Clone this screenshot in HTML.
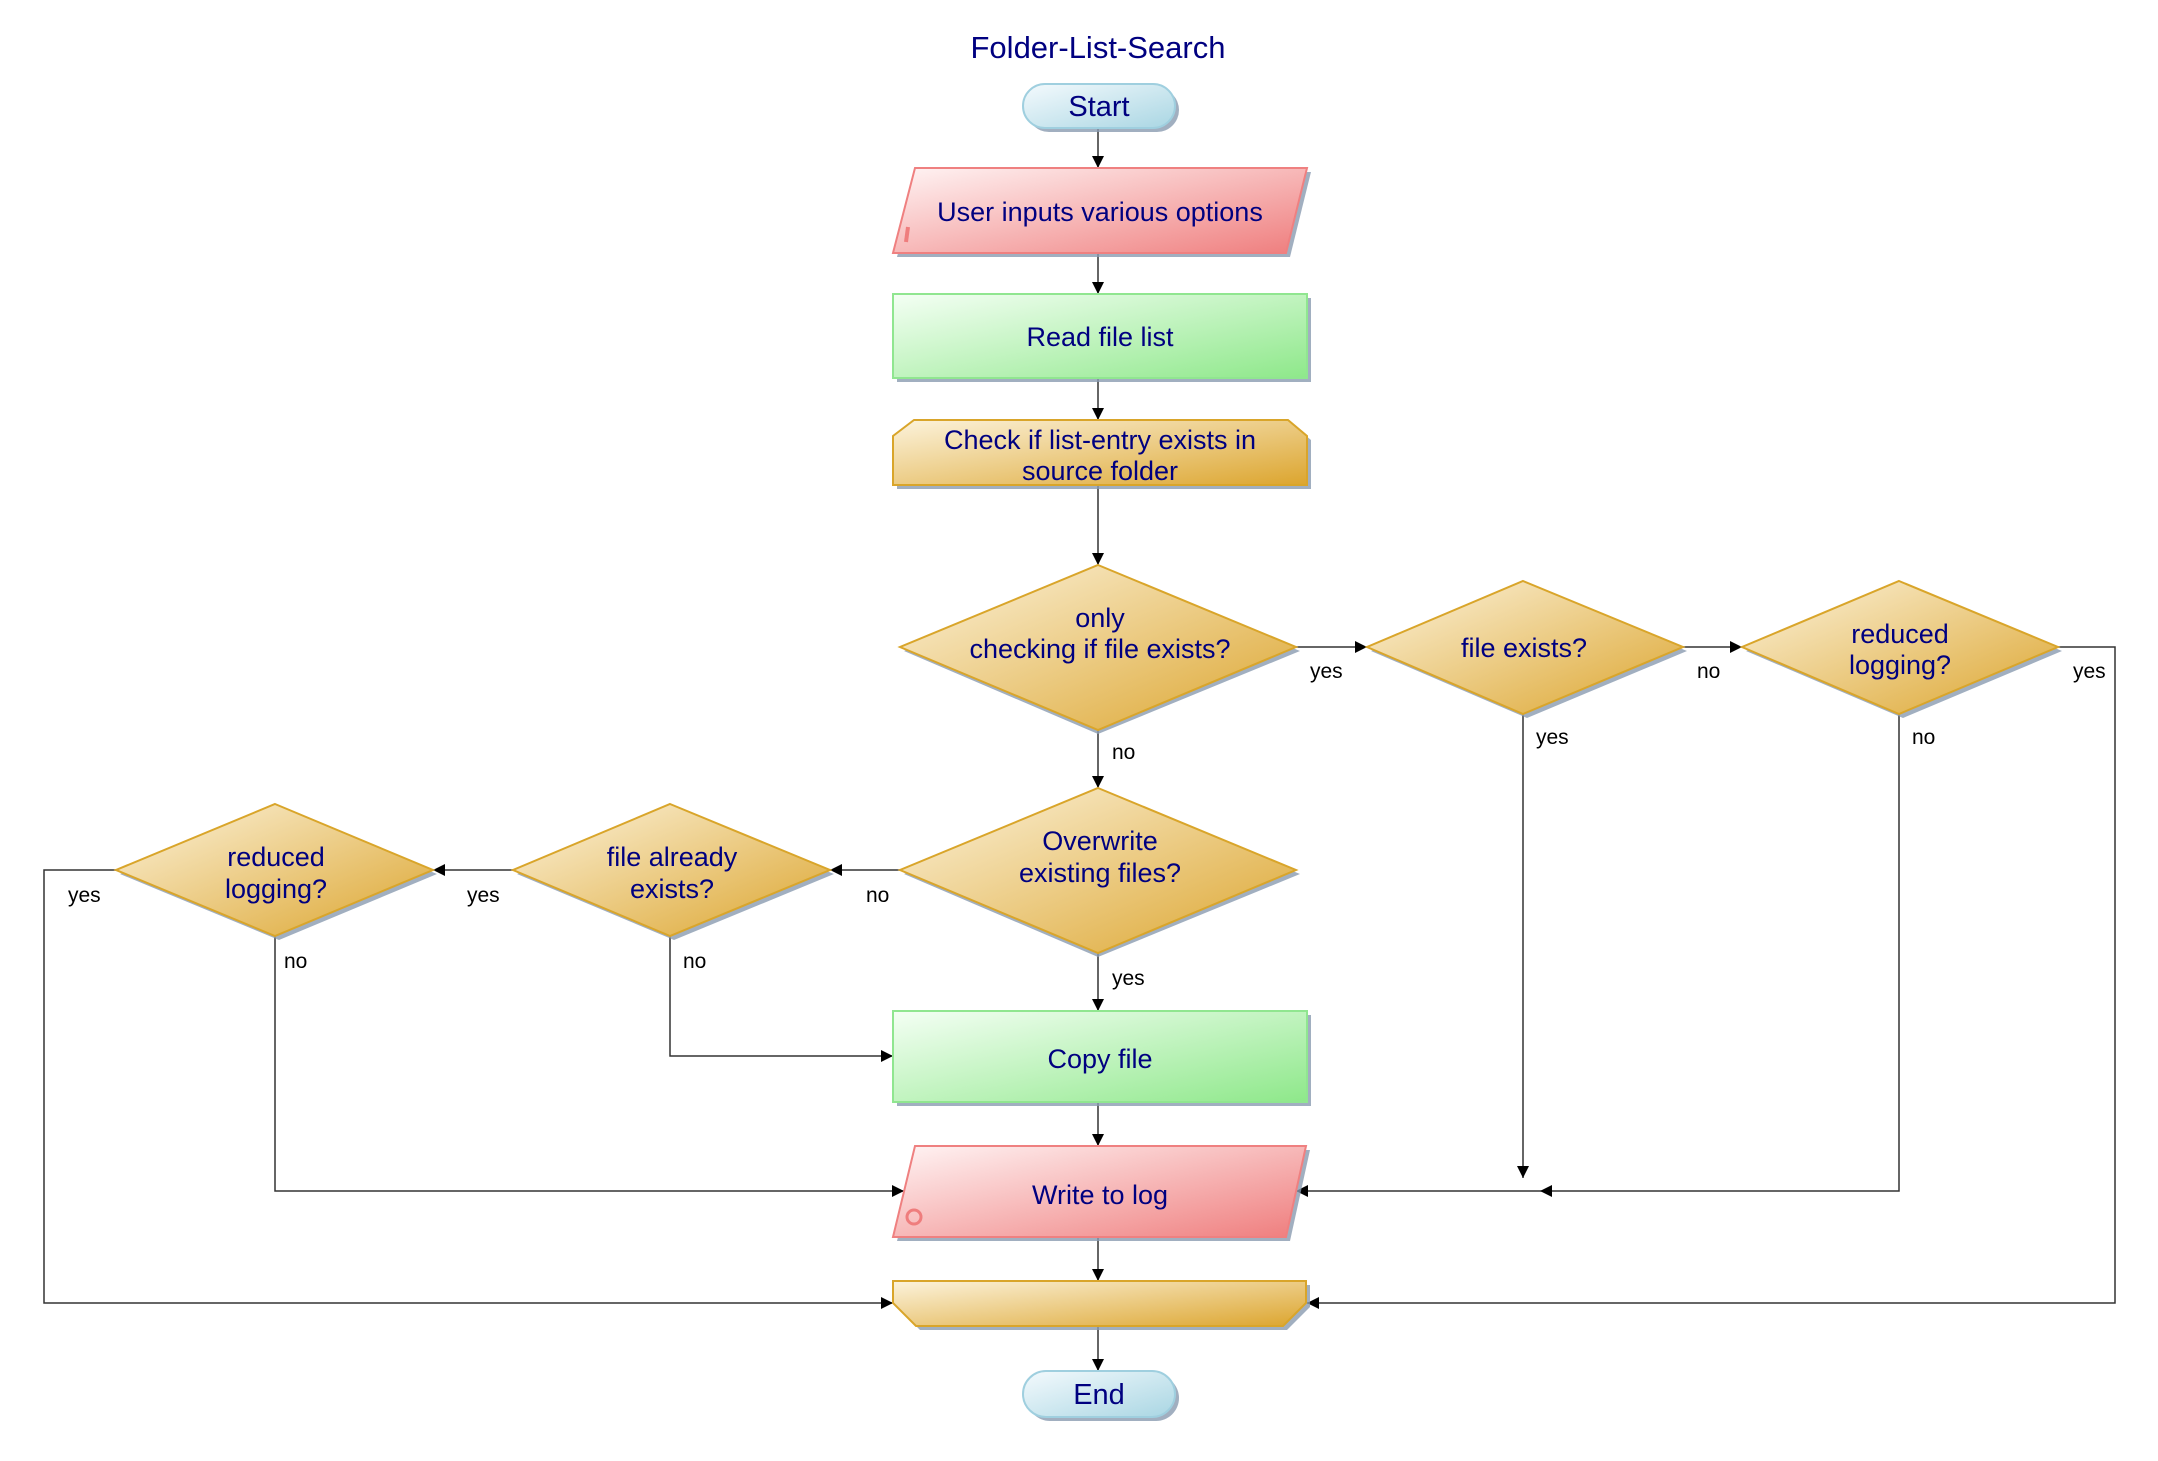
<!DOCTYPE html>
<html><head><meta charset="utf-8"><style>
html,body{margin:0;padding:0;background:#fff;}
svg{display:block;}
text{font-family:"Liberation Sans",Arial,sans-serif;}
.n{fill:#000080;font-size:27px;text-anchor:middle;}
.l{fill:#000;font-size:21px;}
.c{stroke:#333;stroke-width:1.5;fill:none;}
.sh{fill:#8a9bb0;opacity:.8;}
</style></head><body>
<svg width="2158" height="1461" viewBox="0 0 2158 1461" xmlns="http://www.w3.org/2000/svg">
<defs>
<linearGradient id="gy" x1="0" y1="0" x2="1" y2="1"><stop offset="0" stop-color="#fcf3dc"/><stop offset="1" stop-color="#dca52e"/></linearGradient>
<linearGradient id="gg" x1="0" y1="0" x2="1" y2="1"><stop offset="0" stop-color="#f4fff4"/><stop offset="1" stop-color="#8ee88a"/></linearGradient>
<linearGradient id="gp" x1="0" y1="0" x2="1" y2="1"><stop offset="0" stop-color="#fff4f4"/><stop offset="1" stop-color="#ef7d7d"/></linearGradient>
<linearGradient id="gb" x1="0" y1="0" x2="1" y2="1"><stop offset="0" stop-color="#f4fafd"/><stop offset="1" stop-color="#a9d6e3"/></linearGradient>
<marker id="a" markerWidth="12" markerHeight="12" refX="12" refY="6" orient="auto" markerUnits="userSpaceOnUse"><path d="M0,0 L12,6 L0,12 z" fill="#000"/></marker>
</defs>

<text x="1098" y="58" class="n" style="font-size:31px">Folder-List-Search</text>

<!-- connectors -->
<g class="c">
<path d="M1098 128 V168" marker-end="url(#a)"/>
<path d="M1098 253 V294" marker-end="url(#a)"/>
<path d="M1098 378 V420" marker-end="url(#a)"/>
<path d="M1098 485 V565" marker-end="url(#a)"/>
<path d="M1296 647 H1367" marker-end="url(#a)"/>
<path d="M1683 647 H1742" marker-end="url(#a)"/>
<path d="M2058 647 H2115 V1303 H1307" marker-end="url(#a)"/>
<path d="M1523 714 V1178" marker-end="url(#a)"/>
<path d="M1899 714 V1191 H1540" marker-end="url(#a)"/>
<path d="M1540 1191 H1296" marker-end="url(#a)"/>
<path d="M1098 730 V788" marker-end="url(#a)"/>
<path d="M900 870 H830" marker-end="url(#a)"/>
<path d="M513 870 H433" marker-end="url(#a)"/>
<path d="M116 870 H44 V1303 H893" marker-end="url(#a)"/>
<path d="M275 936 V1191 H904" marker-end="url(#a)"/>
<path d="M670 936 V1056 H893" marker-end="url(#a)"/>
<path d="M1098 953 V1011" marker-end="url(#a)"/>
<path d="M1098 1102 V1146" marker-end="url(#a)"/>
<path d="M1098 1237 V1281" marker-end="url(#a)"/>
<path d="M1098 1326 V1371" marker-end="url(#a)"/>
</g>

<!-- labels -->
<text class="l" x="1310" y="678">yes</text>
<text class="l" x="1697" y="678">no</text>
<text class="l" x="2073" y="678">yes</text>
<text class="l" x="1536" y="744">yes</text>
<text class="l" x="1912" y="744">no</text>
<text class="l" x="1112" y="759">no</text>
<text class="l" x="866" y="902">no</text>
<text class="l" x="467" y="902">yes</text>
<text class="l" x="68" y="902">yes</text>
<text class="l" x="284" y="968">no</text>
<text class="l" x="683" y="968">no</text>
<text class="l" x="1112" y="985">yes</text>

<!-- Start -->
<rect x="1027" y="88" width="152" height="44" rx="22" class="sh"/>
<rect x="1023" y="84" width="152" height="44" rx="22" fill="url(#gb)" stroke="#9fcfdf" stroke-width="2"/>
<text x="1099" y="116" class="n" style="font-size:29px">Start</text>

<!-- User inputs -->
<polygon points="919,172 1311,172 1290,257 897,257" class="sh"/>
<polygon points="915,168 1307,168 1286,253 893,253" fill="url(#gp)" stroke="#ef8080" stroke-width="2"/>
<line x1="908" y1="227" x2="906" y2="242" stroke="#ef7d7d" stroke-width="4"/>
<text x="1100" y="221" class="n">User inputs various options</text>

<!-- Read file list -->
<rect x="897" y="298" width="414" height="84" class="sh"/>
<rect x="893" y="294" width="414" height="84" fill="url(#gg)" stroke="#90e690" stroke-width="2"/>
<text x="1100" y="346" class="n">Read file list</text>

<!-- Check -->
<polygon points="918,424 1292,424 1311,440 1311,489 897,489 897,440" class="sh"/>
<polygon points="914,420 1288,420 1307,436 1307,485 893,485 893,436" fill="url(#gy)" stroke="#d9a52a" stroke-width="2"/>
<text x="1100" y="449" class="n">Check if list-entry exists in</text>
<text x="1100" y="480" class="n">source folder</text>

<!-- Diamonds -->
<g>
<polygon points="1098,569 1300,651 1098,734 904,651" class="sh"/>
<polygon points="1098,565 1296,647 1098,730 900,647" fill="url(#gy)" stroke="#d9a52a" stroke-width="2"/>
<text x="1100" y="627" class="n">only</text>
<text x="1100" y="658" class="n">checking if file exists?</text>

<polygon points="1527,585 1687,651 1527,718 1371,651" class="sh"/>
<polygon points="1523,581 1683,647 1523,714 1367,647" fill="url(#gy)" stroke="#d9a52a" stroke-width="2"/>
<text x="1524" y="657" class="n">file exists?</text>

<polygon points="1903,585 2062,651 1903,718 1746,651" class="sh"/>
<polygon points="1899,581 2058,647 1899,714 1742,647" fill="url(#gy)" stroke="#d9a52a" stroke-width="2"/>
<text x="1900" y="643" class="n">reduced</text>
<text x="1900" y="674" class="n">logging?</text>

<polygon points="1098,792 1300,874 1098,957 904,874" class="sh"/>
<polygon points="1098,788 1296,870 1098,953 900,870" fill="url(#gy)" stroke="#d9a52a" stroke-width="2"/>
<text x="1100" y="850" class="n">Overwrite</text>
<text x="1100" y="882" class="n">existing files?</text>

<polygon points="674,808 834,874 674,940 517,874" class="sh"/>
<polygon points="670,804 830,870 670,936 513,870" fill="url(#gy)" stroke="#d9a52a" stroke-width="2"/>
<text x="672" y="866" class="n">file already</text>
<text x="672" y="898" class="n">exists?</text>

<polygon points="279,808 437,874 279,940 120,874" class="sh"/>
<polygon points="275,804 433,870 275,936 116,870" fill="url(#gy)" stroke="#d9a52a" stroke-width="2"/>
<text x="276" y="866" class="n">reduced</text>
<text x="276" y="898" class="n">logging?</text>
</g>

<!-- Copy file -->
<rect x="897" y="1015" width="414" height="91" class="sh"/>
<rect x="893" y="1011" width="414" height="91" fill="url(#gg)" stroke="#90e690" stroke-width="2"/>
<text x="1100" y="1068" class="n">Copy file</text>

<!-- Write to log -->
<polygon points="919,1150 1310,1150 1290,1241 897,1241" class="sh"/>
<polygon points="915,1146 1306,1146 1286,1237 893,1237" fill="url(#gp)" stroke="#ef8080" stroke-width="2"/>
<circle cx="914" cy="1217" r="7" fill="none" stroke="#ef7d7d" stroke-width="3"/>
<text x="1100" y="1204" class="n">Write to log</text>

<!-- merge -->
<polygon points="897,1285 1310,1285 1310,1307 1287,1330 920,1330 897,1307" class="sh"/>
<polygon points="893,1281 1306,1281 1306,1303 1283,1326 916,1326 893,1303" fill="url(#gy)" stroke="#d9a52a" stroke-width="2"/>

<!-- End -->
<rect x="1027" y="1375" width="152" height="46" rx="23" class="sh"/>
<rect x="1023" y="1371" width="152" height="46" rx="23" fill="url(#gb)" stroke="#9fcfdf" stroke-width="2"/>
<text x="1099" y="1404" class="n" style="font-size:29px">End</text>
</svg>
</body></html>
